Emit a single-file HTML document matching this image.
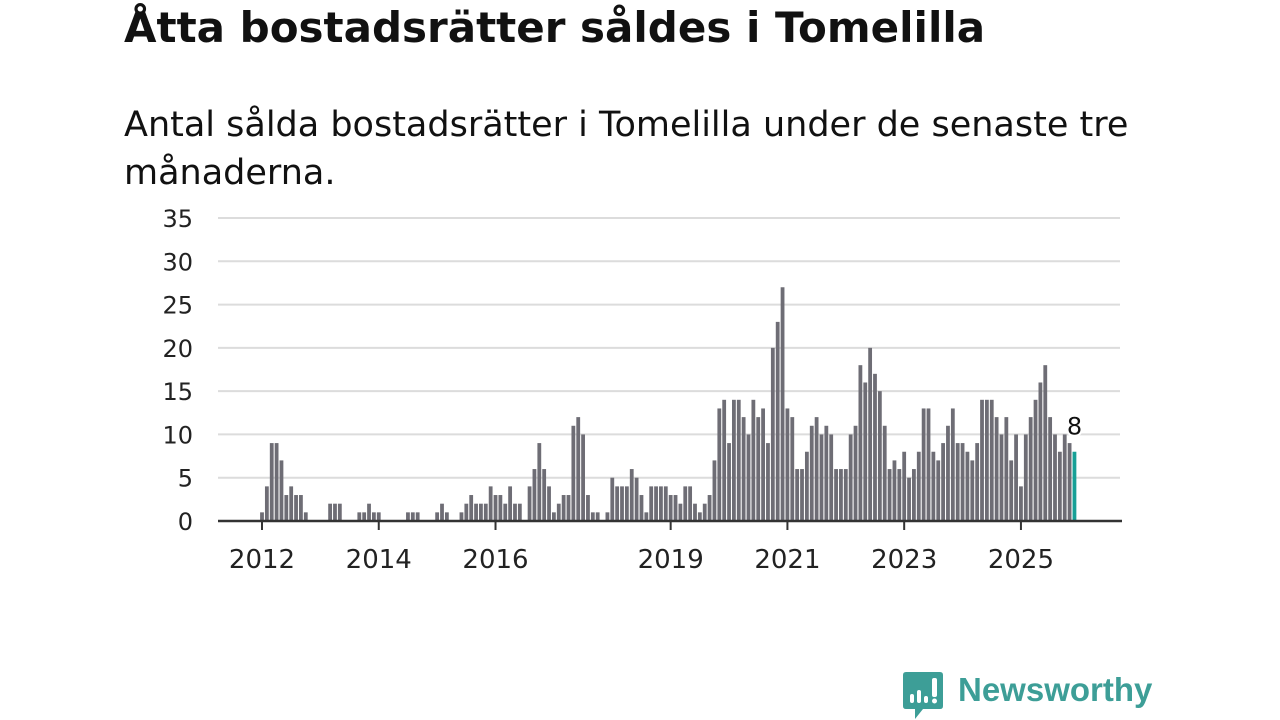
<!DOCTYPE html>
<html><head><meta charset="utf-8">
<style>
body{margin:0;width:1280px;height:720px;background:#fff;overflow:hidden;font-family:"DejaVu Sans","Liberation Sans",sans-serif;}
#title{position:absolute;left:124px;top:3px;font-size:42px;font-weight:bold;color:#111;margin:0;white-space:nowrap;font-family:"DejaVu Sans",sans-serif}
#sub{position:absolute;left:124px;top:101px;font-size:35px;color:#111;line-height:48px;width:1100px;margin:0;font-family:"DejaVu Sans",sans-serif}
svg{position:absolute;left:0;top:0}
</style></head><body>
<h1 id="title">Åtta bostadsrätter såldes i Tomelilla</h1>
<p id="sub">Antal sålda bostadsrätter i Tomelilla under de senaste tre månaderna.</p>
<svg id="chart" width="1280" height="720"></svg>
<script>
const values=[1,4,9,9,7,3,4,3,3,1,0,0,0,0,2,2,2,0,0,0,1,1,2,1,
1,0,0,0,0,0,1,1,1,0,0,0,1,2,1,0,0,1,2,3,2,2,2,4,
3,3,2,4,2,2,0,4,6,9,6,4,1,2,3,3,11,12,10,3,1,1,0,1,
5,4,4,4,6,5,3,1,4,4,4,4,3,3,2,4,4,2,1,2,3,7,13,14,
9,14,14,12,10,14,12,13,9,20,23,27,13,12,6,6,8,11,12,10,11,10,6,6,
6,10,11,18,16,20,17,15,11,6,7,6,8,5,6,8,13,13,8,7,9,11,13,9,
9,8,7,9,14,14,14,12,10,12,7,10,4,10,12,14,16,18,12,10,8,10,9,8];
const yTicks=[0,5,10,15,20,25,30,35];
const xTickLabels=["2012","2014","2016","2019","2021","2023","2025"];
const xTickIdx=[0,24,48,84,108,132,156];
const NS="http://www.w3.org/2000/svg";
const svg=document.getElementById('chart');
const x0=262,step=4.865,yBase=521,yScale=(521-218)/35;
const xs=i=>x0+i*step, ys=v=>yBase-v*yScale;
const FF='DejaVu Sans, Liberation Sans, sans-serif';
function mk(t,a){const e=document.createElementNS(NS,t);for(const k in a)e.setAttribute(k,a[k]);svg.appendChild(e);return e;}
yTicks.forEach(v=>{
 if(v>0){const g=mk('line',{x1:218,x2:1120,y1:ys(v),y2:ys(v),stroke:'#dcdcdc','stroke-width':2});
 
 }
 const t=mk('text',{x:193,y:ys(v)+9,'text-anchor':'end','font-size':24,fill:'#222','font-family':FF});
 t.textContent=v;
 
 
});
values.forEach((v,i)=>{
 if(v<=0)return;
 const last=i===values.length-1;
 const r=mk('rect',{x:xs(i)-1.9,y:ys(v),width:3.8,height:yBase-ys(v),fill:last?'#17a096':'#6e6d75'});
 
 
});
const ax=mk('line',{x1:218,x2:1122,y1:yBase,y2:yBase,stroke:'#333','stroke-width':2.5});


xTickIdx.forEach((idx,k)=>{
 const tk=mk('line',{x1:xs(idx),x2:xs(idx),y1:yBase,y2:yBase+9,stroke:'#333','stroke-width':2});
 
 
 const t=mk('text',{x:xs(idx),y:568,'text-anchor':'middle','font-size':26,fill:'#222','font-family':FF});
 t.textContent=xTickLabels[k];
 
 
});
const li=values.length-1;
const lb=mk('text',{x:xs(li),y:ys(values[li])-17,'text-anchor':'middle','font-size':24,fill:'#111',stroke:'#fff','stroke-width':4,'paint-order':'stroke','font-family':FF});
lb.textContent=values[li];


</script>
<div style="position:absolute;left:903px;top:672px;width:260px;height:48px;">
<svg width="42" height="48" style="position:absolute;left:0;top:0">
<path d="M3 0 H37 Q40 0 40 3 V34 Q40 37 37 37 H20 L12 47 L12 37 H3 Q0 37 0 34 V3 Q0 0 3 0Z" fill="#3d9e97"/>
<rect x="7" y="22" width="4" height="9" rx="2" fill="#fff"/>
<rect x="14" y="18" width="4" height="13" rx="2" fill="#fff"/>
<rect x="21" y="24" width="4" height="7" rx="2" fill="#fff"/>
<rect x="29" y="6" width="5" height="19" rx="2" fill="#fff"/>
<circle cx="31.5" cy="29" r="2.5" fill="#fff"/>
</svg>
<span style="position:absolute;left:55px;top:-1px;font-size:33px;font-weight:bold;color:#3d9e97;font-family:'Liberation Sans',sans-serif;">Newsworthy</span>
</div>
</body></html>
